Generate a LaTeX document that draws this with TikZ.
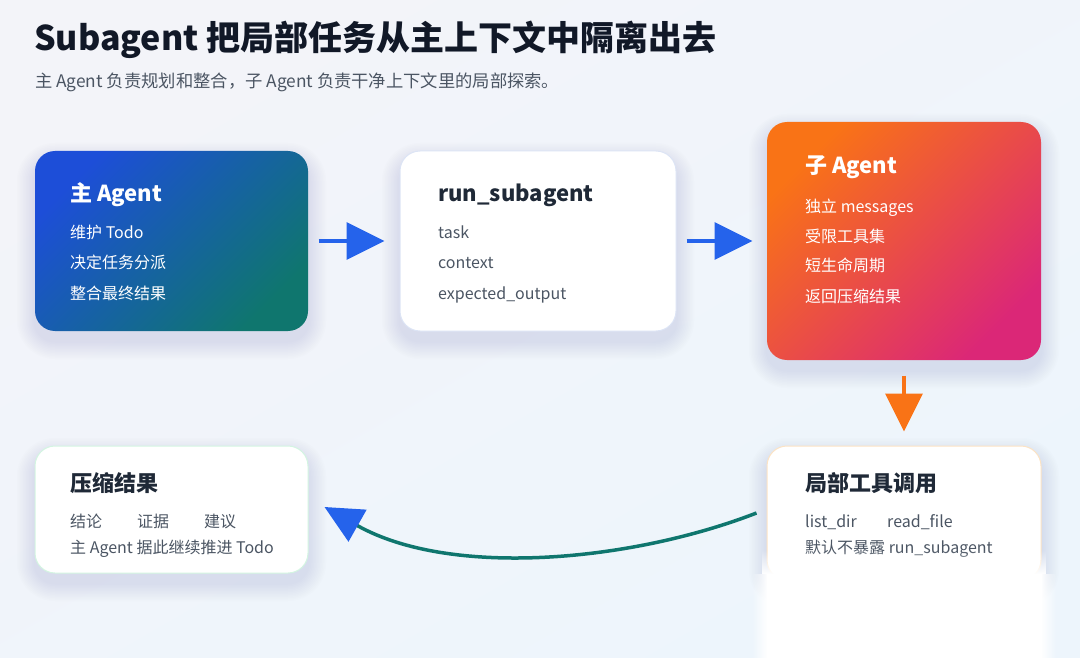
\documentclass[tikz,border=0pt]{standalone}
\usepackage{fontspec}
\setmainfont{Noto Sans CJK SC}
\usetikzlibrary{arrows.meta,fadings}
\definecolor{bgtop}{HTML}{F3F4F9}
\definecolor{bgbot}{HTML}{EDF5FC}
\definecolor{titlec}{HTML}{111827}
\definecolor{subc}{HTML}{4B5563}
\definecolor{darkc}{HTML}{1F2937}
\definecolor{itemc}{HTML}{4B5563}
\definecolor{blueA}{HTML}{1D4ED8}
\definecolor{tealA}{HTML}{0F766E}
\definecolor{orangeA}{HTML}{F97316}
\definecolor{pinkA}{HTML}{DB2777}
\definecolor{arrowblue}{HTML}{2563EB}
\definecolor{arroworange}{HTML}{F97316}
\definecolor{curvec}{HTML}{0F766E}
\definecolor{borderblue}{HTML}{DCE4F5}
\definecolor{bordergreen}{HTML}{D3F5E1}
\definecolor{borderorange}{HTML}{FCE3C4}
\definecolor{shadowc}{HTML}{8E9CC4}
\tikzset{
  card/.style={rounded corners=20pt, inner sep=0pt, line width=1pt},
  ttlw/.style={anchor=base west, inner sep=0pt, text=white, font=\bfseries\fontsize{22}{26}\selectfont},
  ttld/.style={anchor=base west, inner sep=0pt, text=darkc, font=\bfseries\fontsize{22}{26}\selectfont},
  itmw/.style={anchor=base west, inner sep=0pt, text=white, font=\fontsize{16}{20}\selectfont},
  itmd/.style={anchor=base west, inner sep=0pt, text=itemc, font=\fontsize{16}{20}\selectfont},
  bluearrow/.style={draw=arrowblue, line width=3.5pt, -{Triangle[length=38pt,width=37pt]}, arrowblue},
  orangearrow/.style={draw=arroworange, line width=3.5pt, -{Triangle[length=38pt,width=37pt]}, arroworange},
  curvearrow/.style={draw=curvec, line width=3.5pt, -{Triangle[length=38pt,width=36pt,color=arrowblue]}},
}
\newcommand\cardshadow[4]{%
  \foreach \i in {1,...,12}{%
    \pgfmathsetmacro\rr{20+1.5*\i}%
    \fill[shadowc, opacity=0.018, rounded corners=\rr pt] (#1-1.5*\i,#2-1.5*\i+10) rectangle (#3+1.5*\i,#4+1.5*\i+10);
  }}
\begin{document}
\begin{tikzpicture}[x=1pt,y=-1pt]
\shade[top color=bgtop, bottom color=bgbot, shading angle=30] (0,0) rectangle (1080,658);
\useasboundingbox (0,0) rectangle (1080,658);

% title
\node[anchor=base west, inner sep=0pt, text=titlec, font=\bfseries\fontsize{34}{38}\selectfont] (title) at (34,50.5) {Subagent 把局部任务从主上下文中隔离出去};
\node[anchor=base west, inner sep=0pt, text=subc, font=\fontsize{17.3}{21}\selectfont] (subtitle) at (35,87.5) {主 Agent 负责规划和整合，子 Agent 负责干净上下文里的局部探索。};

% shadows
\cardshadow{35}{151}{308}{331}
\cardshadow{400}{151}{676}{331}
\cardshadow{767}{122}{1041}{360}
\cardshadow{767}{446}{1041}{580}
\cardshadow{35}{446}{308}{573}

% main agent
\node[card, minimum width=273pt, minimum height=180pt, top color=blueA, bottom color=tealA, shading angle=45] (main) at (171.5,241) {};
\node[ttlw] (mainT) at (70,201) {主 Agent};
\node[itmw] (main1) at (70,238.5) {维护 Todo};
\node[itmw] (main2) at (70,269) {决定任务分派};
\node[itmw] (main3) at (70,299.5) {整合最终结果};

% run_subagent
\node[card, minimum width=276pt, minimum height=180pt, fill=white, draw=borderblue] (run) at (538,241) {};
\node[ttld] (runT) at (438,201) {run\_subagent};
\node[itmd] (run1) at (438,238.5) {task};
\node[itmd] (run2) at (438,269) {context};
\node[itmd] (run3) at (438,299.5) {expected\_output};

% sub agent
\node[card, minimum width=274pt, minimum height=238pt, top color=orangeA, bottom color=pinkA, shading angle=45] (sub) at (904,241) {};
\node[ttlw] (subT) at (805,174) {子 Agent};
\node[itmw] (sub1) at (805,212) {独立 messages};
\node[itmw] (sub2) at (805,242) {受限工具集};
\node[itmw] (sub3) at (805,272) {短生命周期};
\node[itmw] (sub4) at (805,302) {返回压缩结果};

% local tools
\node[card, minimum width=274pt, minimum height=134pt, fill=white, draw=borderorange] (tool) at (904,513) {};
\node[ttld] (toolT) at (805,491) {局部工具调用};
\node[itmd] (tool1) at (805,527) {list\_dir};
\node[itmd] (tool2) at (887,527) {read\_file};
\node[itmd] (tool3) at (805,553) {默认不暴露 run\_subagent};

% white haze over lower part of tool card
\fill[white] (767,574) rectangle (1041,658);
\fill[white, path fading=north] (762,550) rectangle (1046,574);
\fill[white, path fading=west] (752,574) rectangle (767,658);
\fill[white, path fading=east] (1041,574) rectangle (1056,658);

% compressed result
\node[card, minimum width=273pt, minimum height=127pt, fill=white, draw=bordergreen] (result) at (171.5,509.5) {};
\node[ttld] (resT) at (70,491) {压缩结果};
\node[itmd] (res1) at (70,527) {结论};
\node[itmd] (res2) at (137,527) {证据};
\node[itmd] (res3) at (204,527) {建议};
\node[itmd] (res4) at (70,553) {主 Agent 据此继续推进 Todo};

% connectors
\draw[bluearrow] ([xshift=10pt]main.east) -- ([xshift=-15pt]run.west);
\draw[bluearrow] ([xshift=10pt]run.east) -- ([xshift=-14pt]sub.west);
\draw[orangearrow] ([yshift=-15pt]sub.south) -- ([yshift=14pt]tool.north);
\draw[curvearrow] ([xshift=-10pt]tool.west) .. controls (630,562) and (450,578) .. ([xshift=16pt,yshift=2.5pt]result.east);
\end{tikzpicture}
\end{document}
